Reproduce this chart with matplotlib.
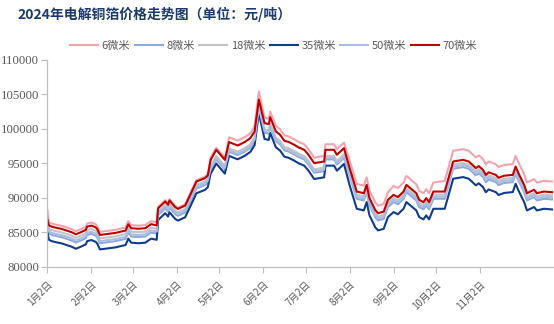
import matplotlib
matplotlib.use("Agg")
import matplotlib.pyplot as plt
import pandas as pd

plt.rcParams['font.family'] = ['Noto Sans CJK SC', 'DejaVu Sans']

dates = ["2024-01-02","2024-01-03","2024-01-05","2024-01-09","2024-01-12","2024-01-16","2024-01-19","2024-01-22","2024-01-25","2024-01-29",
         "2024-01-30","2024-02-02","2024-02-05","2024-02-06","2024-02-08","2024-02-19","2024-02-23","2024-02-26","2024-02-28","2024-03-01",
         "2024-03-06","2024-03-11","2024-03-15","2024-03-19","2024-03-20","2024-03-25","2024-03-27","2024-03-28","2024-04-01","2024-04-03",
         "2024-04-08","2024-04-10","2024-04-16","2024-04-22","2024-04-24","2024-04-26","2024-04-30","2024-05-06","2024-05-07","2024-05-09",
         "2024-05-15","2024-05-20","2024-05-24","2024-05-27","2024-05-30","2024-06-03","2024-06-06","2024-06-07","2024-06-11","2024-06-14",
         "2024-06-17","2024-06-20","2024-06-24","2024-06-27","2024-07-01","2024-07-04","2024-07-08","2024-07-15","2024-07-16","2024-07-22",
         "2024-07-24","2024-07-29","2024-08-02","2024-08-07","2024-08-12","2024-08-14","2024-08-16","2024-08-20","2024-08-22","2024-08-26",
         "2024-08-29","2024-09-02","2024-09-05","2024-09-09","2024-09-11","2024-09-18","2024-09-20","2024-09-23","2024-09-25","2024-09-27",
         "2024-09-30","2024-10-08","2024-10-10","2024-10-14","2024-10-21","2024-10-25","2024-10-30","2024-11-01","2024-11-04","2024-11-06",
         "2024-11-08","2024-11-13","2024-11-15","2024-11-19","2024-11-25","2024-11-27","2024-11-29","2024-12-03","2024-12-05","2024-12-10",
         "2024-12-12","2024-12-17","2024-12-23"]

um6 = [88200,86450,86250,86050,85930,85650,85450,85150,85400,85780,
       86260,86410,86150,85930,85050,85350,85550,85680,86610,86030,
       85950,86030,86610,86450,88680,89650,89170,89800,88830,88580,
       89060,89900,92550,93040,93420,95800,97260,95800,96630,98780,
       98280,98780,99350,100320,105430,101630,101490,102500,100420,99940,
       99060,98900,98480,98100,97760,97030,95820,96060,97760,97760,
       97030,98000,95400,92000,91760,92970,91040,89340,88860,89090,
       90800,91720,91400,92200,93170,91960,91000,90660,91240,90660,
       92200,92450,93900,96810,97050,96810,95850,96150,95600,94850,
       95250,94870,94450,94750,94870,96080,95110,93420,92210,92700,
       92210,92450,92350]

um8 = [87200,84800,84600,84400,84280,84000,83800,83500,83750,84130,
       84610,84760,84500,84280,83400,83700,83900,84030,84960,84380,
       84300,84380,84960,84800,87480,88450,87970,88600,87630,87380,
       87860,88700,91350,91840,92220,94100,95560,94100,94930,96680,
       96180,96680,97250,98220,102830,99430,99290,100300,98220,97740,
       96860,96700,96280,95900,95560,94830,93620,93860,95560,95560,
       94830,95800,93250,89850,89610,90820,88890,87190,86710,86940,
       88650,89370,89050,89850,90820,89610,88650,88310,88890,88310,
       89850,89850,91300,94210,94450,94210,93250,93550,93000,92250,
       92650,92270,91850,92150,92270,93480,92510,90820,89610,90100,
       89610,89850,89750]

um18 = [86300,85500,85300,85100,84980,84700,84500,84200,84450,84830,
        85310,85460,85200,84980,84100,84400,84600,84730,85660,85080,
        85000,85080,85660,85500,87980,88950,88470,89100,88130,87880,
        88360,89200,91850,92340,92720,94600,96060,94600,95430,97180,
        96680,97180,97750,98720,103330,99930,99790,100800,98720,98240,
        97360,97200,96780,96400,96060,95330,94120,94360,96060,96060,
        95330,96300,93850,90450,90210,91420,89490,87790,87310,87540,
        89250,89970,89650,90450,91420,90210,89250,88910,89490,88910,
        90450,90450,91900,94810,95050,94810,93850,94150,93600,92850,
        93250,92870,92450,92750,92870,94080,93110,91420,90210,90700,
        90210,90450,90350]

um35 = [85000,83900,83700,83500,83380,83100,82900,82600,82850,83230,
        83710,83860,83600,83380,82500,82800,83000,83130,84060,83480,
        83400,83480,84060,83900,86780,87750,87270,87900,86930,86680,
        87160,88000,90650,91140,91520,93500,94960,93500,94330,96080,
        95580,96080,96650,97620,102280,98530,98390,99400,97320,96840,
        95960,95800,95380,95000,94660,93930,92720,92960,94660,94660,
        93930,94900,91800,88400,88160,89370,87440,85740,85260,85490,
        87200,87920,87600,88400,89370,88160,87200,86860,87440,86860,
        88400,88400,89850,92760,93000,92760,91800,92100,91550,90800,
        91200,90820,90400,90700,90820,92030,91060,89370,88160,88650,
        88160,88400,88300]

um50 = [85900,85100,84900,84700,84580,84300,84100,83800,84050,84430,
        84910,85060,84800,84580,83700,84000,84200,84330,85260,84680,
        84600,84680,85260,85100,87730,88700,88220,88850,87880,87630,
        88110,88950,91600,92090,92470,94300,95760,94300,95130,96880,
        96380,96880,97450,98420,103030,99630,99490,100500,98420,97940,
        97060,96900,96480,96100,95760,95030,93820,94060,95760,95760,
        95030,96000,93550,90150,89910,91120,89190,87490,87010,87240,
        88950,89670,89350,90150,91120,89910,88950,88610,89190,88610,
        90150,90150,91600,94510,94750,94510,93550,93850,93300,92550,
        92950,92570,92150,92450,92570,93780,92810,91120,89910,90400,
        89910,90150,90050]

um70 = [86800,86000,85800,85600,85480,85200,85000,84700,84950,85330,
        85810,85960,85700,85480,84600,84900,85100,85230,86160,85580,
        85500,85580,86160,86000,88480,89450,88970,89600,88630,88380,
        88860,89700,92350,92840,93220,95500,96960,95500,96330,98080,
        97580,98080,98650,99620,104230,100830,100690,101700,99620,99140,
        98260,98100,97680,97300,96960,96230,95020,95260,96960,96960,
        96230,97200,94300,90900,90660,91870,89940,88240,87760,87990,
        89700,90420,90100,90900,91870,90660,89700,89360,89940,89360,
        90900,90900,92350,95260,95500,95260,94300,94600,94050,93300,
        93700,93320,92900,93200,93320,94530,93560,91870,90660,91150,
        90660,90900,90800]

series_names = ["6微米", "8微米", "18微米", "35微米", "50微米", "70微米"]
tick_dates = ["2024-01-02","2024-02-02","2024-03-02","2024-04-02","2024-05-02","2024-06-02",
              "2024-07-02","2024-08-02","2024-09-02","2024-10-02","2024-11-02"]
tick_labels = ["1月2日","2月2日","3月2日","4月2日","5月2日","6月2日",
               "7月2日","8月2日","9月2日","10月2日","11月2日"]
y_ticks = [80000, 85000, 90000, 95000, 100000, 105000, 110000]

colors = ["#F4A3AD", "#8EA9DA", "#C3C3C3", "#0F3C8C", "#A8BDE2", "#C00000"]
values = [um6, um8, um18, um35, um50, um70]

x = pd.to_datetime(dates)

fig = plt.figure(figsize=(5.54, 3.24), dpi=100)
ax = fig.add_axes([0.0857, 0.177, 0.9116, 0.638])

for name, vals, c in zip(series_names, values, colors):
    ax.plot(x, vals, color=c, lw=1.5, label=name, solid_joinstyle='round')

ax.set_ylim(80000, 110000)
ax.set_xlim(x[0], x[-1])
ax.set_yticks(y_ticks)
ax.set_yticklabels([str(v) for v in y_ticks], fontfamily=['Liberation Serif'], fontsize=9.2, color='#595959')
ax.set_xticks(pd.to_datetime(tick_dates))
ax.set_xticklabels(tick_labels, rotation=45, ha='right', rotation_mode='anchor',
                   fontsize=7, color='#595959')
ax.tick_params(axis='x', length=4, color='#BFBFBF', pad=5)
ax.tick_params(axis='y', length=4, color='#BFBFBF', pad=2)

for s in ['top', 'right']:
    ax.spines[s].set_visible(False)
for s in ['left', 'bottom']:
    ax.spines[s].set_color('#BFBFBF')
    ax.spines[s].set_linewidth(0.9)

fig.text(0.031, 0.955, "2024年电解铜箔价格走势图（单位：元/吨）", fontsize=10, fontweight='bold',
         color='#1B3A6E', ha='left', va='center')

fig.legend(loc='center', bbox_to_anchor=(0.494, 0.858), ncol=6, frameon=False,
           fontsize=8, handlelength=2.5, handletextpad=0.35, columnspacing=0.4,
           labelcolor='#595959')

fig.savefig("out.png", dpi=100)
